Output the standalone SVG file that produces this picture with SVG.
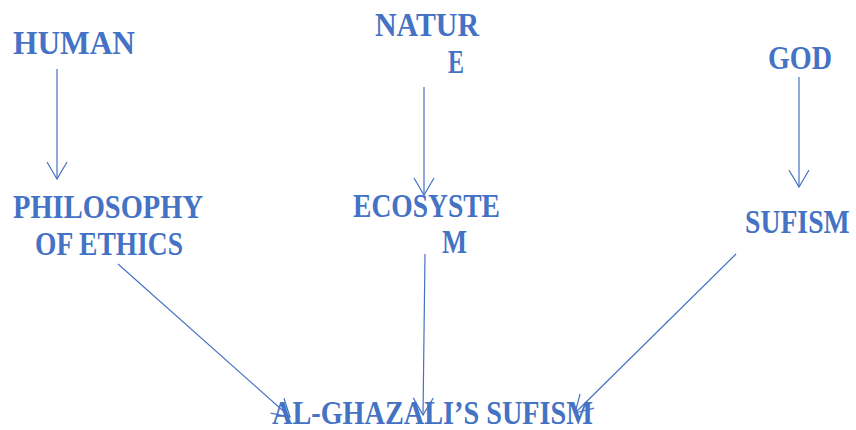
<svg xmlns="http://www.w3.org/2000/svg" width="856" height="430" viewBox="0 0 856 430">
<defs>
<style>
text{font-family:"Liberation Serif","Times New Roman",serif;font-weight:bold;font-size:33px;fill:#4472C4}
.c line{stroke:#4472C4;stroke-width:1.2;fill:none}
</style>
<marker id="ah" markerUnits="userSpaceOnUse" markerWidth="24" markerHeight="24" viewBox="-20 -12 24 24" refX="0" refY="0" orient="auto">
<path d="M-17,-10 L0,0 L-17,10" fill="none" stroke="#4472C4" stroke-width="1.2"/>
</marker>
</defs>
<rect width="856" height="430" fill="#fff"/>
<g id="human"><text x="13" y="54" textLength="122" lengthAdjust="spacingAndGlyphs">HUMAN</text></g>
<g id="nature"><text x="375" y="36" textLength="104" lengthAdjust="spacingAndGlyphs">NATUR</text><text x="448" y="73" textLength="16" lengthAdjust="spacingAndGlyphs">E</text></g>
<g id="god"><text x="768" y="69" textLength="64" lengthAdjust="spacingAndGlyphs">GOD</text></g>
<g id="philosophy"><text x="13" y="218" textLength="190" lengthAdjust="spacingAndGlyphs">PHILOSOPHY</text><text x="35" y="255" textLength="148" lengthAdjust="spacingAndGlyphs">OF ETHICS</text></g>
<g id="ecosystem"><text x="353" y="217" textLength="147" lengthAdjust="spacingAndGlyphs">ECOSYSTE</text><text x="442" y="253" textLength="25" lengthAdjust="spacingAndGlyphs">M</text></g>
<g id="sufism"><text transform="translate(745,233) scale(0.84,1)" x="0" y="0">SUFISM</text></g>
<g id="alghazali"><text x="272" y="424" textLength="321" lengthAdjust="spacingAndGlyphs">AL-GHAZALI’S SUFISM</text></g>
<g class="c" id="connectors">
<line x1="57" y1="69" x2="57" y2="179" marker-end="url(#ah)"/>
<line x1="424" y1="87" x2="424" y2="195" marker-end="url(#ah)"/>
<line x1="799" y1="77" x2="799" y2="187" marker-end="url(#ah)"/>
<line x1="118" y1="264" x2="290" y2="417" marker-end="url(#ah)"/>
<line x1="425" y1="254" x2="423" y2="415" marker-end="url(#ah)"/>
<line x1="736" y1="254" x2="575" y2="413" marker-end="url(#ah)"/>
</g>
</svg>
